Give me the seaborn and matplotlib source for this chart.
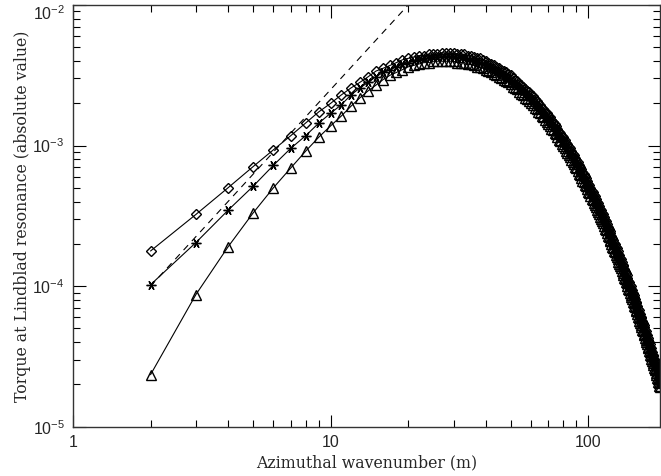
import numpy as np
import matplotlib
matplotlib.use("Agg")
import matplotlib.pyplot as plt
import matplotlib.transforms as mtransforms
import seaborn as sns
from matplotlib.ticker import LogLocator, NullFormatter

# azimuthal wavenumber m = 2 ... 190
wavenumber = list(range(2, 191))

# log10 of |torque|, one row = 10 values of m
log_torque_diamond = [
    -3.75, -3.49, -3.30, -3.15, -3.03, -2.93, -2.84, -2.76, -2.70, -2.64,
    -2.59, -2.55, -2.51, -2.47, -2.45, -2.43, -2.41, -2.39, -2.38, -2.37,
    -2.36, -2.36, -2.35, -2.35, -2.35, -2.34, -2.34, -2.34, -2.34, -2.35,
    -2.35, -2.35, -2.36, -2.36, -2.37, -2.38, -2.38, -2.39, -2.40, -2.41,
    -2.42, -2.43, -2.44, -2.45, -2.46, -2.47, -2.48, -2.49, -2.50, -2.52,
    -2.53, -2.54, -2.56, -2.57, -2.58, -2.60, -2.61, -2.62, -2.64, -2.65,
    -2.67, -2.68, -2.70, -2.71, -2.73, -2.74, -2.76, -2.77, -2.79, -2.80,
    -2.82, -2.83, -2.85, -2.86, -2.88, -2.90, -2.91, -2.93, -2.94, -2.96,
    -2.98, -2.99, -3.01, -3.02, -3.04, -3.06, -3.07, -3.09, -3.10, -3.12,
    -3.14, -3.15, -3.17, -3.19, -3.20, -3.22, -3.23, -3.25, -3.27, -3.28,
    -3.30, -3.32, -3.33, -3.35, -3.36, -3.38, -3.40, -3.41, -3.43, -3.45,
    -3.46, -3.48, -3.49, -3.51, -3.53, -3.54, -3.56, -3.58, -3.59, -3.61,
    -3.62, -3.64, -3.66, -3.67, -3.69, -3.70, -3.72, -3.73, -3.75, -3.77,
    -3.78, -3.80, -3.81, -3.83, -3.85, -3.86, -3.88, -3.89, -3.91, -3.92,
    -3.94, -3.96, -3.97, -3.99, -4.00, -4.02, -4.03, -4.05, -4.06, -4.08,
    -4.09, -4.11, -4.12, -4.14, -4.16, -4.17, -4.19, -4.20, -4.22, -4.23,
    -4.25, -4.26, -4.28, -4.29, -4.31, -4.32, -4.34, -4.35, -4.37, -4.38,
    -4.40, -4.41, -4.43, -4.44, -4.46, -4.47, -4.49, -4.50, -4.52, -4.53,
    -4.54, -4.56, -4.57, -4.59, -4.60, -4.62, -4.63, -4.65, -4.66,
]

log_torque_star = [
    -3.99, -3.69, -3.46, -3.29, -3.14, -3.02, -2.93, -2.84, -2.77, -2.71,
    -2.64, -2.59, -2.55, -2.51, -2.48, -2.46, -2.44, -2.42, -2.41, -2.40,
    -2.39, -2.38, -2.38, -2.37, -2.37, -2.37, -2.37, -2.37, -2.37, -2.38,
    -2.38, -2.38, -2.39, -2.39, -2.40, -2.41, -2.41, -2.42, -2.43, -2.44,
    -2.45, -2.46, -2.47, -2.48, -2.49, -2.50, -2.51, -2.52, -2.53, -2.55,
    -2.56, -2.57, -2.59, -2.60, -2.61, -2.63, -2.64, -2.65, -2.67, -2.68,
    -2.70, -2.71, -2.73, -2.74, -2.76, -2.77, -2.79, -2.80, -2.82, -2.83,
    -2.85, -2.86, -2.88, -2.89, -2.91, -2.93, -2.94, -2.96, -2.97, -2.99,
    -3.01, -3.02, -3.04, -3.05, -3.07, -3.09, -3.10, -3.12, -3.13, -3.15,
    -3.17, -3.18, -3.20, -3.22, -3.23, -3.25, -3.26, -3.28, -3.30, -3.31,
    -3.33, -3.35, -3.36, -3.38, -3.39, -3.41, -3.43, -3.44, -3.46, -3.48,
    -3.49, -3.51, -3.52, -3.54, -3.56, -3.57, -3.59, -3.61, -3.62, -3.64,
    -3.65, -3.67, -3.69, -3.70, -3.72, -3.73, -3.75, -3.76, -3.78, -3.80,
    -3.81, -3.83, -3.84, -3.86, -3.88, -3.89, -3.91, -3.92, -3.94, -3.95,
    -3.97, -3.99, -4.00, -4.02, -4.03, -4.05, -4.06, -4.08, -4.09, -4.11,
    -4.12, -4.14, -4.15, -4.17, -4.19, -4.20, -4.22, -4.23, -4.25, -4.26,
    -4.28, -4.29, -4.31, -4.32, -4.34, -4.35, -4.37, -4.38, -4.40, -4.41,
    -4.43, -4.44, -4.46, -4.47, -4.49, -4.50, -4.52, -4.53, -4.55, -4.56,
    -4.57, -4.59, -4.60, -4.62, -4.63, -4.65, -4.66, -4.68, -4.69,
]

log_torque_triangle = [
    -4.63, -4.06, -3.72, -3.48, -3.30, -3.16, -3.04, -2.94, -2.86, -2.79,
    -2.72, -2.66, -2.61, -2.57, -2.53, -2.50, -2.48, -2.46, -2.44, -2.43,
    -2.42, -2.41, -2.41, -2.40, -2.40, -2.40, -2.40, -2.40, -2.40, -2.41,
    -2.41, -2.41, -2.42, -2.42, -2.43, -2.44, -2.44, -2.45, -2.46, -2.47,
    -2.48, -2.49, -2.50, -2.51, -2.52, -2.53, -2.54, -2.55, -2.56, -2.58,
    -2.59, -2.60, -2.62, -2.63, -2.64, -2.66, -2.67, -2.68, -2.70, -2.71,
    -2.73, -2.74, -2.76, -2.77, -2.79, -2.80, -2.82, -2.83, -2.85, -2.86,
    -2.88, -2.89, -2.91, -2.92, -2.94, -2.96, -2.97, -2.99, -3.00, -3.02,
    -3.04, -3.05, -3.07, -3.08, -3.10, -3.12, -3.13, -3.15, -3.16, -3.18,
    -3.20, -3.21, -3.23, -3.25, -3.26, -3.28, -3.29, -3.31, -3.33, -3.34,
    -3.36, -3.38, -3.39, -3.41, -3.42, -3.44, -3.46, -3.47, -3.49, -3.51,
    -3.52, -3.54, -3.55, -3.57, -3.59, -3.60, -3.62, -3.64, -3.65, -3.67,
    -3.68, -3.70, -3.72, -3.73, -3.75, -3.76, -3.78, -3.79, -3.81, -3.83,
    -3.84, -3.86, -3.87, -3.89, -3.91, -3.92, -3.94, -3.95, -3.97, -3.98,
    -4.00, -4.02, -4.03, -4.05, -4.06, -4.08, -4.09, -4.11, -4.12, -4.14,
    -4.15, -4.17, -4.18, -4.20, -4.22, -4.23, -4.25, -4.26, -4.28, -4.29,
    -4.31, -4.32, -4.34, -4.35, -4.37, -4.38, -4.40, -4.41, -4.43, -4.44,
    -4.46, -4.47, -4.49, -4.50, -4.52, -4.53, -4.55, -4.56, -4.58, -4.59,
    -4.60, -4.62, -4.63, -4.65, -4.66, -4.68, -4.69, -4.71, -4.72,
]

# m^2 reference line (dashed)
ref_m = [2, 20]
ref_torque = [1e-4, 1e-2]

for s in (log_torque_diamond, log_torque_star, log_torque_triangle):
    assert len(s) == len(wavenumber)

sns.set_style("ticks")
plt.rcParams["font.family"] = ["Liberation Sans", "DejaVu Sans"]
plt.rcParams["mathtext.fontset"] = "custom"
plt.rcParams["mathtext.rm"] = "Liberation Sans"

fig = plt.figure(figsize=(6.61, 4.76), dpi=100)
ax = fig.add_axes([73 / 661, 49.3 / 476, 587 / 661, 421.7 / 476])

series = [
    (log_torque_diamond, "D", 5.0),
    (log_torque_star, (6, 2, 90), 7.0),
    (log_torque_triangle, "^", 6.5),
]
for logs, mk, ms in series:
    sns.lineplot(x=wavenumber, y=10.0 ** np.array(logs), ax=ax, color="black",
                 linewidth=0.8, marker=mk, markersize=ms,
                 markerfacecolor="none", markeredgecolor="black",
                 markeredgewidth=1.0, sort=False, estimator=None)

sns.lineplot(x=ref_m, y=ref_torque, ax=ax, color="black", linewidth=0.8,
             dashes=False, linestyle=(0, (6, 5)))

ax.set_xscale("log")
ax.set_yscale("log")
ax.set_xlim(1, 190)
ax.set_ylim(1e-5, 1e-2)

ax.xaxis.set_minor_locator(LogLocator(base=10, subs=np.arange(2, 10), numticks=20))
ax.xaxis.set_minor_formatter(NullFormatter())
ax.yaxis.set_minor_formatter(NullFormatter())
ax.set_xticks([1, 10, 100])
ax.set_xticklabels(["1", "10", "100"])

ax.tick_params(which="both", direction="in", top=True, right=True,
               width=0.8, color="black", labelsize=11.5, pad=6)
ax.tick_params(which="major", length=9)
ax.tick_params(which="minor", length=5)
for sp in ax.spines.values():
    sp.set_linewidth(1.0)
    sp.set_color("#333333")

ax.set_xlabel("Azimuthal wavenumber (m)", family="DejaVu Serif", fontsize=11.3,
              labelpad=3)
ax.set_ylabel("Torque at Lindblad resonance (absolute value)",
              family="DejaVu Serif", fontsize=11.3, labelpad=1)

# push the top label (10^-2) a little down so it stays inside the picture
fig.canvas.draw()
top_label = [t for t in ax.get_yticklabels() if t.get_position()[1] >= 1e-2 * 0.99]
for t in top_label:
    t.set_transform(t.get_transform() +
                    mtransforms.ScaledTranslation(0, -5 / 72, fig.dpi_scale_trans))

fig.savefig("out.png", dpi=100)
